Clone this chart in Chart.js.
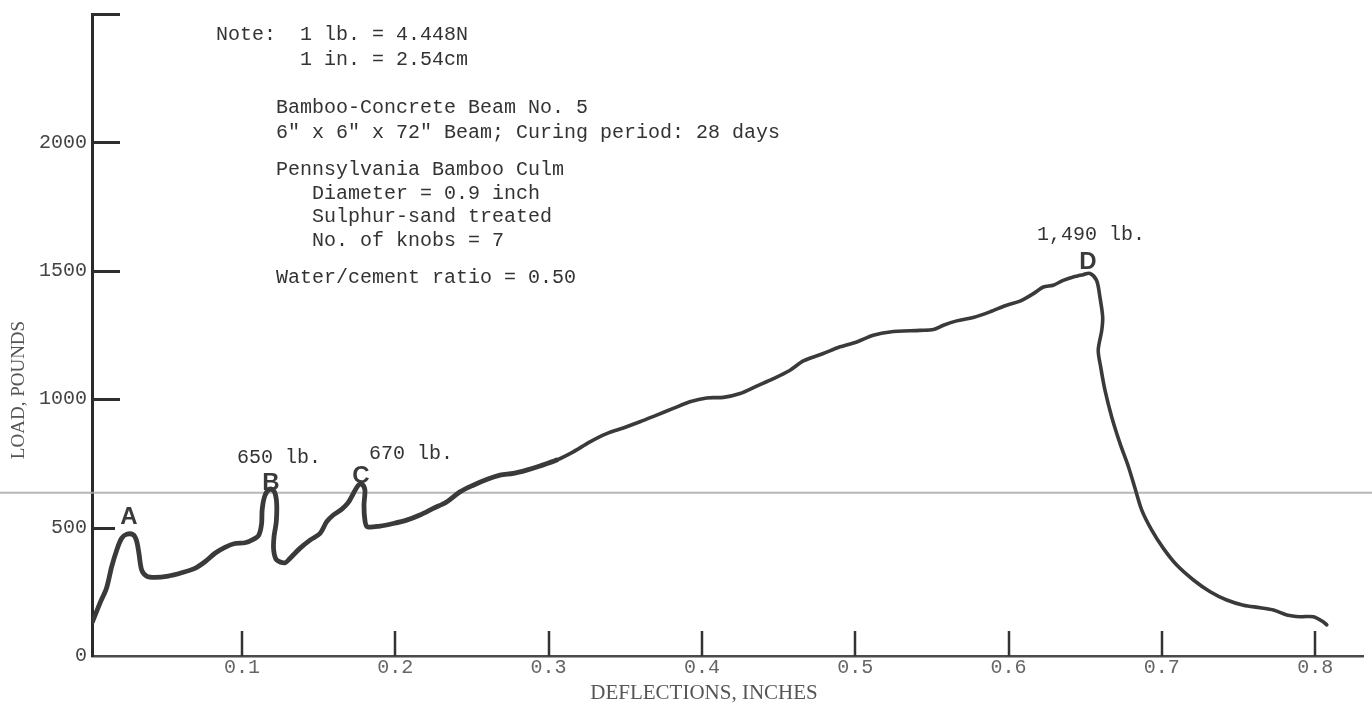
<!DOCTYPE html>
<html>
<head>
<meta charset="utf-8">
<title>Bamboo-Concrete Beam No. 5 — Load vs. Deflection</title>
<script src="https://cdn.jsdelivr.net/npm/chart.js@4.4.1/dist/chart.umd.min.js"></script>
<style>
  html, body { margin: 0; padding: 0; background: #ffffff; }
  #wrap { width: 1372px; height: 704px; }
  canvas { display: block; }
</style>
</head>
<body>
<div id="wrap"><canvas id="chart" width="1372" height="704"></canvas></div>
<script>
// Load–deflection record of the beam test (deflection in inches, load in pounds)
const deflection = [
  0.0025, 0.0074, 0.0117, 0.015, 0.0183, 0.0215, 0.0248, 0.0291, 0.0313, 0.0328,
  0.0346, 0.0378, 0.0432, 0.0519, 0.0607, 0.0693, 0.0759, 0.0824, 0.0889, 0.0954,
  0.102, 0.1074, 0.111, 0.1128, 0.1132, 0.115, 0.1183, 0.1211, 0.1226, 0.1224,
  0.1209, 0.1207, 0.1226, 0.128, 0.1313, 0.1378, 0.1444, 0.1509, 0.1553, 0.1596,
  0.165, 0.1693, 0.1726, 0.1759, 0.1781, 0.1802, 0.1796, 0.1802, 0.1818, 0.19,
  0.1987, 0.2074, 0.2161, 0.2248, 0.2335, 0.2422, 0.2509, 0.2596, 0.2683, 0.277,
  0.2857, 0.2944, 0.3053, 0.3161, 0.327, 0.3379, 0.3487, 0.3596, 0.3705, 0.3813,
  0.3922, 0.4031, 0.414, 0.4249, 0.4357, 0.4466, 0.4575, 0.4662, 0.4792, 0.4901,
  0.501, 0.5118, 0.5227, 0.5423, 0.551, 0.5575, 0.5662, 0.577, 0.5879, 0.5988,
  0.6075, 0.6162, 0.6227, 0.6292, 0.6357, 0.6422, 0.6487, 0.653, 0.6574, 0.6596,
  0.6614, 0.6608, 0.6585, 0.6601, 0.6629, 0.6673, 0.6727, 0.6782, 0.6825, 0.6869,
  0.6934, 0.701, 0.7097, 0.7206, 0.7315, 0.7423, 0.7532, 0.7641, 0.7728, 0.7815,
  0.7902, 0.7988, 0.8053, 0.8076
];
const load = [
  133, 206, 265, 347, 412, 458, 474, 472, 448, 400,
  335, 311, 306, 311, 324, 341, 367, 400, 423, 438,
  441, 454, 471, 514, 571, 625, 650, 640, 598, 523,
  464, 412, 374, 363, 380, 419, 451, 477, 523, 549,
  571, 597, 632, 665, 670, 647, 588, 529, 503, 506,
  516, 529, 549, 575, 600, 639, 665, 687, 704, 711,
  724, 740, 763, 795, 834, 866, 888, 912, 938, 964,
  990, 1005, 1007, 1022, 1051, 1080, 1113, 1149, 1178, 1204,
  1223, 1249, 1262, 1268, 1271, 1288, 1305, 1318, 1340, 1366,
  1382, 1411, 1437, 1444, 1463, 1476, 1485, 1490, 1463, 1398,
  1320, 1268, 1191, 1126, 1035, 931, 828, 737, 653, 568,
  490, 419, 354, 296, 250, 218, 198, 188, 179, 160,
  153, 153, 133, 121
];

// Axis ticks
const loadTicks = [0, 500, 1000, 1500, 2000, 2500];
const deflectionTicks = [0.1, 0.2, 0.3, 0.4, 0.5, 0.6, 0.7, 0.8];

// Marked points on the curve and the loads they carry
const pointNames = ['A', 'B', 'C', 'D'];
const peakNames = ['B', 'C', 'D'];
const peakLoads = [650, 670, 1490];

// Notes typed on the sheet
const noteLines = [
  'Note:  1 lb. = 4.448N',
  '       1 in. = 2.54cm',
  'Bamboo-Concrete Beam No. 5',
  '6" x 6" x 72" Beam; Curing period: 28 days',
  'Pennsylvania Bamboo Culm',
  'Diameter = 0.9 inch',
  'Sulphur-sand treated',
  'No. of knobs = 7',
  'Water/cement ratio = 0.50'
];

const MONO = '"Liberation Mono", "DejaVu Sans Mono", monospace';
const SERIF = '"Liberation Serif", "DejaVu Serif", serif';
const SANS = '"Liberation Sans", Arial, sans-serif';
const INK = '#3a3a3a';

const points = deflection.map((x, i) => ({ x: x, y: load[i] }));

// Horizontal pale rule across the whole sheet
const paleRule = {
  id: 'paleRule',
  beforeDatasetsDraw(chart) {
    const { ctx } = chart;
    const y = chart.scales.y.getPixelForValue(636);
    ctx.save();
    ctx.strokeStyle = 'rgba(170,170,170,0.85)';
    ctx.lineWidth = 2;
    ctx.beginPath();
    ctx.moveTo(0, y);
    ctx.lineTo(chart.width, y);
    ctx.stroke();
    ctx.restore();
  }
};

// Tick marks pointing into the plot, axis titles and the typed notes
const decorations = {
  id: 'decorations',
  afterDraw(chart) {
    const { ctx, chartArea } = chart;
    const xs = chart.scales.x, ys = chart.scales.y;
    ctx.save();

    // inward ticks on the load axis
    ctx.strokeStyle = '#2e2e2e';
    ctx.lineWidth = 3;
    loadTicks.filter(v => v > 0).forEach(v => {
      const y = Math.round(ys.getPixelForValue(v)) + 0.5;
      ctx.beginPath();
      ctx.moveTo(chartArea.left, y);
      ctx.lineTo(chartArea.left + (v === 500 ? 23 : 28), y);
      ctx.stroke();
    });
    // inward ticks on the deflection axis
    ctx.lineWidth = 2.5;
    ctx.strokeStyle = '#333';
    deflectionTicks.forEach(v => {
      const x = Math.round(xs.getPixelForValue(v));
      ctx.beginPath();
      ctx.moveTo(x, chartArea.bottom);
      ctx.lineTo(x, chartArea.bottom - 25);
      ctx.stroke();
    });

    // axis titles
    ctx.fillStyle = '#555';
    ctx.textAlign = 'center';
    ctx.textBaseline = 'middle';
    ctx.font = '21px ' + SERIF;
    ctx.fillText('DEFLECTIONS, INCHES', 704, 693);
    ctx.save();
    ctx.translate(19, 390);
    ctx.rotate(-Math.PI / 2);
    ctx.font = '19px ' + SERIF;
    ctx.fillText('LOAD, POUNDS', 0, 0);
    ctx.restore();

    // typed notes
    ctx.fillStyle = '#333';
    ctx.textAlign = 'left';
    ctx.textBaseline = 'alphabetic';
    ctx.font = '20px ' + MONO;
    const notePos = [
      [216, 40], [216, 65], [276, 113], [276, 138], [276, 175],
      [312, 199], [312, 222], [312, 246], [276, 283]
    ];
    noteLines.forEach((t, i) => ctx.fillText(t, notePos[i][0], notePos[i][1]));

    // stated peak loads
    const peakPos = { B: [237, 463], C: [369, 459], D: [1037, 240] };
    peakNames.forEach((n, i) => {
      const txt = peakLoads[i].toLocaleString('en-US') + ' lb.';
      ctx.fillText(txt, peakPos[n][0], peakPos[n][1]);
    });

    // point letters
    ctx.font = 'bold 24px ' + SANS;
    ctx.fillStyle = INK;
    ctx.textAlign = 'center';
    ctx.textBaseline = 'middle';
    const letterPos = { A: [129, 517], B: [271, 483], C: [361, 476], D: [1088, 262] };
    pointNames.forEach(n => ctx.fillText(n, letterPos[n][0], letterPos[n][1]));

    ctx.restore();
  }
};

new Chart(document.getElementById('chart'), {
  type: 'line',
  data: {
    datasets: [{
      data: points,
      borderColor: INK,
      borderWidth: 4,
      segment: {
        borderWidth: c => (c.p0.parsed.x < 0.3 ? 4.8 : 3.6)
      },
      tension: 0.3,
      pointRadius: 0,
      fill: false,
      borderCapStyle: 'round',
      borderJoinStyle: 'round'
    }]
  },
  options: {
    responsive: false,
    animation: false,
    devicePixelRatio: 1,
    layout: { padding: { top: 14, right: 9, left: 0, bottom: 0 } },
    plugins: { legend: { display: false }, tooltip: { enabled: false } },
    scales: {
      x: {
        type: 'linear',
        min: 0.0022,
        max: 0.8312,
        afterBuildTicks: s => { s.ticks = deflectionTicks.map(v => ({ value: v })); },
        afterFit: s => { s.height = 48; s.paddingLeft = 0; s.paddingRight = 0; },
        grid: { display: false, drawTicks: false },
        border: { display: true, color: '#4a4a4a', width: 2.5 },
        ticks: {
          padding: 0, color: '#666', autoSkip: false, maxRotation: 0,
          font: { family: MONO, size: 20 },
          callback: v => v.toFixed(1)
        }
      },
      y: {
        min: 0,
        max: 2500,
        afterBuildTicks: s => { s.ticks = loadTicks.map(v => ({ value: v })); },
        afterFit: s => { s.width = 92; s.paddingTop = 0; s.paddingBottom = 0; },
        grid: { display: false, drawTicks: false },
        border: { display: true, color: '#2a2a2a', width: 3 },
        ticks: {
          padding: 5, color: '#444',
          font: { family: MONO, size: 20 },
          callback: v => (v === 2500 ? '' : String(v))
        }
      }
    }
  },
  plugins: [paleRule, decorations]
});
</script>
</body>
</html>
